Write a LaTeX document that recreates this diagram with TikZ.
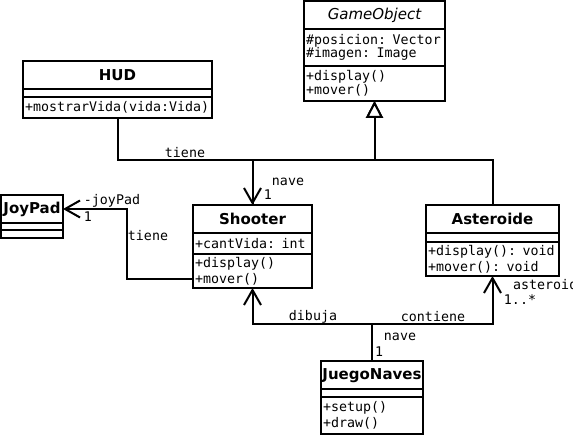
\documentclass[tikz,border=0pt]{standalone}
\usepackage{fontspec}
\newfontfamily\umlsans{DejaVu Sans}
\newfontfamily\umlmono{DejaVu Sans Mono}
\usetikzlibrary{positioning,arrows.meta}

\tikzset{
  classtitle/.style={draw, line width=2pt, outer sep=0pt, inner sep=0pt,
    minimum height=28pt, font=\umlsans\fontsize{15}{17}\selectfont\bfseries},
  classpart/.style={draw, line width=2pt, outer sep=0pt, inner xsep=2pt,
    inner ysep=0pt, align=left, font=\umlmono\fontsize{13.3}{16}\selectfont},
  tightpart/.style={classpart, font=\umlmono\fontsize{13.3}{13.5}\selectfont},
  assoc/.style={line width=2pt, -{Straight Barb[length=15pt,width=17pt]}},
  inherit/.style={line width=2pt, -{Triangle[open,length=17pt,width=17pt,fill=white]}},
  rolelabel/.style={inner sep=0pt, font=\umlmono\fontsize{13.3}{14}\selectfont}
}

\begin{document}
\begin{tikzpicture}[x=1pt, y=-1pt]
  \useasboundingbox (0,0) rectangle (573,435);

  % GameObject
  \node[classtitle, minimum width=141pt, font=\umlsans\fontsize{15}{17}\selectfont\itshape] (gotitle) at (374.5,15) {GameObject};
  \node[tightpart, text width=137pt, minimum height=37pt, below=0pt of gotitle] (goattr) {\#posicion: Vector\\\#imagen: Image};
  \node[tightpart, text width=137pt, minimum height=35pt, below=0pt of goattr] (goops) {+display()\\+mover()};

  % HUD
  \node[classtitle, minimum width=189pt] (hudtitle) at (117.5,75) {HUD};
  \node[classpart, text width=185pt, minimum height=8pt, below=0pt of hudtitle] (hudattr) {};
  \node[classpart, text width=185pt, minimum height=21pt, below=0pt of hudattr] (hudops) {+mostrarVida(vida:Vida)};

  % JoyPad
  \node[classtitle, minimum width=62pt] (joytitle) at (32,209) {JoyPad};
  \node[classpart, text width=58pt, minimum height=7pt, below=0pt of joytitle] (joyattr) {};
  \node[classpart, text width=58pt, minimum height=8pt, below=0pt of joyattr] (joyops) {};

  % Shooter
  \node[classtitle, minimum width=119pt] (shtitle) at (252.5,219) {Shooter};
  \node[classpart, text width=115pt, minimum height=21pt, below=0pt of shtitle] (shattr) {+cantVida: int};
  \node[classpart, text width=115pt, minimum height=34pt, below=0pt of shattr] (shops) {+display()\\+mover()};

  % Asteroide
  \node[classtitle, minimum width=133pt] (asttitle) at (492.5,219) {Asteroide};
  \node[classpart, text width=129pt, minimum height=9pt, below=0pt of asttitle] (astattr) {};
  \node[classpart, text width=129pt, minimum height=34pt, below=0pt of astattr] (astops) {+display(): void\\+mover(): void};

  % JuegoNaves
  \node[classtitle, minimum width=102pt] (jntitle) at (372,375.5) {JuegoNaves};
  \node[classpart, text width=98pt, minimum height=8pt, below=0pt of jntitle] (jnattr) {};
  \node[classpart, text width=98pt, minimum height=36pt, below=0pt of jnattr] (jnops) {+setup()\\+draw()};

  % Bus levels of the orthogonal connectors
  \coordinate (topbus) at (0,160);
  \coordinate (lowbus) at (0,324);

  % Generalisation towards GameObject
  \draw[inherit] (shtitle.north) -- (shtitle.north |- topbus) -| (goops.south);
  \draw[inherit] (asttitle.north) -- (asttitle.north |- topbus) -| (goops.south);

  % Associations
  \draw[assoc] (hudops.south) |- (shtitle.north |- topbus) -- (shtitle.north);
  \draw[assoc] ([yshift=-8pt]shops.west) -| ([xshift=64pt]joytitle.east) -- (joytitle.east);
  \draw[assoc] (jntitle.north) -- (jntitle.north |- lowbus) -| (shops.south);
  \draw[assoc] (jntitle.north) -- (jntitle.north |- lowbus) -| (astops.south);

  % Association labels
  \node[rolelabel] (hudtiene) at (185,153) {tiene};
  \node[rolelabel] (navename) at (288,182) {nave};
  \node[rolelabel] (navemult) at (268,195) {1};
  \node[rolelabel] (joyname) at (112,201) {-joyPad};
  \node[rolelabel] (joymult) at (88,217) {1};
  \node[rolelabel] (joytiene) at (148,236) {tiene};
  \node[rolelabel] (dibuja) at (313,317) {dibuja};
  \node[rolelabel] (contiene) at (433,317) {contiene};
  \node[rolelabel] (jnname) at (400,337) {nave};
  \node[rolelabel] (jnmult) at (379,352) {1};
  \node[rolelabel, anchor=west] (astname) at (513,285) {asteroides};
  \node[rolelabel] (astmult) at (520,300) {1..*};
\end{tikzpicture}
\end{document}
